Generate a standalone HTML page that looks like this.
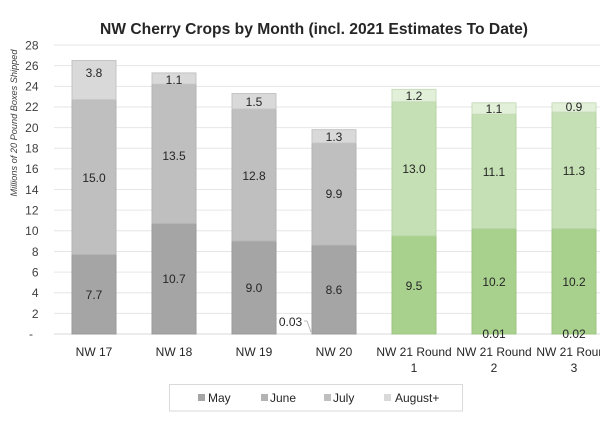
<!DOCTYPE html>
<html><head><meta charset="utf-8"><style>
html,body{margin:0;padding:0;background:#fff;}
svg{display:block;}
text{font-family:"Liberation Sans",sans-serif;}
</style></head><body>
<svg width="600" height="427" viewBox="0 0 600 427" xmlns="http://www.w3.org/2000/svg">
<rect width="600" height="427" fill="#fff"/>
<text x="314" y="34" text-anchor="middle" font-size="15.5" font-weight="bold" fill="#262626" textLength="428" lengthAdjust="spacingAndGlyphs">NW Cherry Crops by Month (incl. 2021 Estimates To Date)</text>
<g stroke="#e6e6e6" stroke-width="1">
<line x1="54" x2="600" y1="45.04" y2="45.04"/>
<line x1="54" x2="600" y1="65.68" y2="65.68"/>
<line x1="54" x2="600" y1="86.32" y2="86.32"/>
<line x1="54" x2="600" y1="106.96" y2="106.96"/>
<line x1="54" x2="600" y1="127.6" y2="127.6"/>
<line x1="54" x2="600" y1="148.24" y2="148.24"/>
<line x1="54" x2="600" y1="168.88" y2="168.88"/>
<line x1="54" x2="600" y1="189.52" y2="189.52"/>
<line x1="54" x2="600" y1="210.16" y2="210.16"/>
<line x1="54" x2="600" y1="230.8" y2="230.8"/>
<line x1="54" x2="600" y1="251.44" y2="251.44"/>
<line x1="54" x2="600" y1="272.08" y2="272.08"/>
<line x1="54" x2="600" y1="292.72" y2="292.72"/>
<line x1="54" x2="600" y1="313.36" y2="313.36"/>
</g>
<line x1="54" x2="600" y1="334" y2="334" stroke="#d9d9d9" stroke-width="1"/>
<g font-size="12" fill="#404040" text-anchor="end">
<text x="38.5" y="49.5">28</text>
<text x="38.5" y="70">26</text>
<text x="38.5" y="90.5">24</text>
<text x="38.5" y="111">22</text>
<text x="38.5" y="132">20</text>
<text x="38.5" y="152.5">18</text>
<text x="38.5" y="173">16</text>
<text x="38.5" y="194">14</text>
<text x="38.5" y="214.5">12</text>
<text x="38.5" y="235">10</text>
<text x="38.5" y="256">8</text>
<text x="38.5" y="276.5">6</text>
<text x="38.5" y="297">4</text>
<text x="38.5" y="318">2</text>
<text x="33" y="338">-</text>
</g>
<text transform="translate(17,123) rotate(-90)" text-anchor="middle" font-size="9" font-style="italic" fill="#404040" textLength="147" lengthAdjust="spacingAndGlyphs">Millions of 20 Pound Boxes Shipped</text>
<g stroke-width="1">
<!-- NW17 -->
<rect x="72" y="254.54" width="44" height="79.46" fill="#a5a5a5" stroke="#9a9a9a"/>
<rect x="72" y="99.74" width="44" height="154.8" fill="#bfbfbf" stroke="#b3b3b3"/>
<rect x="72" y="60.52" width="44" height="39.22" fill="#d9d9d9" stroke="#c4c4c4"/>
<!-- NW18 -->
<rect x="152" y="223.58" width="44" height="110.42" fill="#a5a5a5" stroke="#9a9a9a"/>
<rect x="152" y="84.26" width="44" height="139.32" fill="#bfbfbf" stroke="#b3b3b3"/>
<rect x="152" y="72.9" width="44" height="11.36" fill="#d9d9d9" stroke="#c4c4c4"/>
<!-- NW19 -->
<rect x="232" y="241.12" width="44" height="92.88" fill="#a5a5a5" stroke="#9a9a9a"/>
<rect x="232" y="109.02" width="44" height="132.1" fill="#bfbfbf" stroke="#b3b3b3"/>
<rect x="232" y="93.54" width="44" height="15.48" fill="#d9d9d9" stroke="#c4c4c4"/>
<!-- NW20 -->
<rect x="312" y="245.25" width="44" height="88.75" fill="#a5a5a5" stroke="#9a9a9a"/>
<rect x="312" y="143.08" width="44" height="102.17" fill="#bfbfbf" stroke="#b3b3b3"/>
<rect x="312" y="129.66" width="44" height="13.42" fill="#d9d9d9" stroke="#c4c4c4"/>
<!-- R1 -->
<rect x="392" y="235.96" width="44" height="98.04" fill="#a9d18e" stroke="#9cc581"/>
<rect x="392" y="101.8" width="44" height="134.16" fill="#c5e0b4" stroke="#b6d3a3"/>
<rect x="392" y="89.42" width="44" height="12.38" fill="#e2f0d9" stroke="#c8dcbb"/>
<!-- R2 -->
<rect x="472" y="228.74" width="44" height="105.26" fill="#a9d18e" stroke="#9cc581"/>
<rect x="472" y="114.18" width="44" height="114.56" fill="#c5e0b4" stroke="#b6d3a3"/>
<rect x="472" y="102.83" width="44" height="11.35" fill="#e2f0d9" stroke="#c8dcbb"/>
<!-- R3 -->
<rect x="552" y="228.74" width="44" height="105.26" fill="#a9d18e" stroke="#9cc581"/>
<rect x="552" y="112.12" width="44" height="116.62" fill="#c5e0b4" stroke="#b6d3a3"/>
<rect x="552" y="102.83" width="44" height="9.29" fill="#e2f0d9" stroke="#c8dcbb"/>
</g>
<g font-size="12" fill="#262626" text-anchor="middle">
<text x="94" y="299">7.7</text>
<text x="94" y="182">15.0</text>
<text x="94" y="77">3.8</text>
<text x="174" y="283">10.7</text>
<text x="174" y="160">13.5</text>
<text x="174" y="84">1.1</text>
<text x="254" y="292">9.0</text>
<text x="254" y="180">12.8</text>
<text x="254" y="106">1.5</text>
<text x="334" y="294">8.6</text>
<text x="334" y="198">9.9</text>
<text x="334" y="141">1.3</text>
<text x="414" y="290">9.5</text>
<text x="414" y="173">13.0</text>
<text x="414" y="100">1.2</text>
<text x="494" y="286">10.2</text>
<text x="494" y="176">11.1</text>
<text x="494" y="113">1.1</text>
<text x="494" y="338">0.01</text>
<text x="574" y="286">10.2</text>
<text x="574" y="175">11.3</text>
<text x="574" y="111">0.9</text>
<text x="574" y="338">0.02</text>
<text x="290.5" y="326">0.03</text>
</g>
<polyline points="304,321 307,321 311,332" fill="none" stroke="#a6a6a6" stroke-width="0.8"/>
<g font-size="12" fill="#262626" text-anchor="middle">
<text x="94" y="356">NW 17</text>
<text x="174" y="356">NW 18</text>
<text x="254" y="356">NW 19</text>
<text x="334" y="356">NW 20</text>
<text x="414" y="356">NW 21 Round</text>
<text x="414" y="372">1</text>
<text x="494" y="356">NW 21 Round</text>
<text x="494" y="372">2</text>
<text x="574" y="356">NW 21 Round</text>
<text x="574" y="372">3</text>
</g>
<rect x="169.5" y="384.5" width="293" height="26.5" fill="#fff" stroke="#d9d9d9" stroke-width="1"/>
<rect x="198" y="394" width="7" height="7" fill="#a5a5a5"/>
<text x="208" y="402" font-size="12" fill="#262626">May</text>
<rect x="261" y="394" width="7" height="7" fill="#b3b3b3"/>
<text x="270" y="402" font-size="12" fill="#262626">June</text>
<rect x="324" y="394" width="7" height="7" fill="#bfbfbf"/>
<text x="333" y="402" font-size="12" fill="#262626">July</text>
<rect x="384" y="394" width="7" height="7" fill="#d9d9d9"/>
<text x="395" y="402" font-size="12" fill="#262626">August+</text>
</svg>
</body></html>
